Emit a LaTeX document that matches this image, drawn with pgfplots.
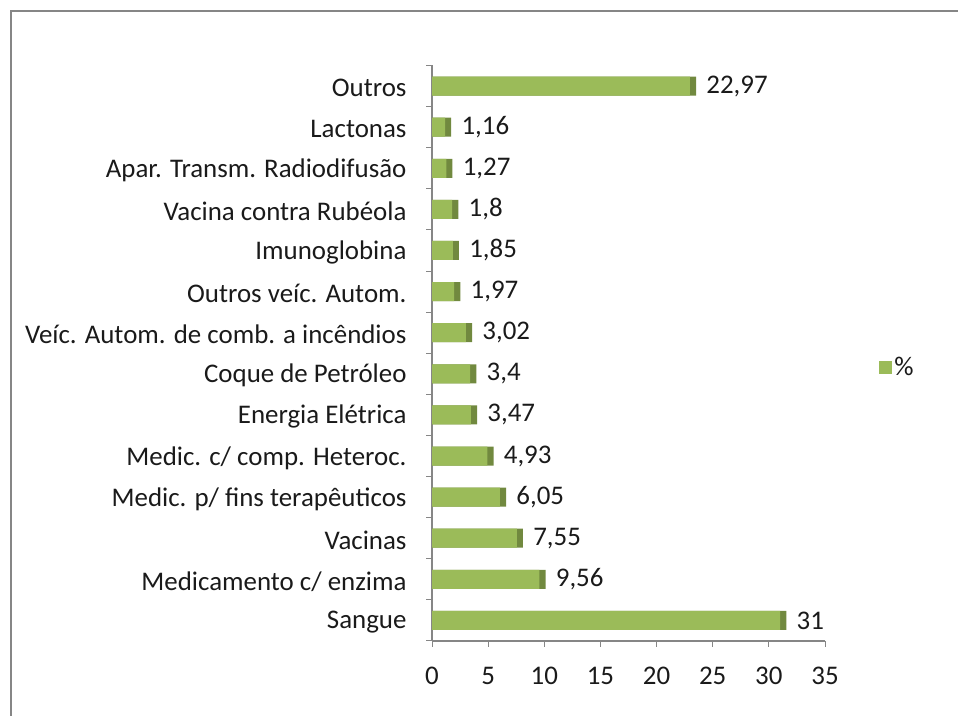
\documentclass[border=0pt]{standalone}
\usepackage{pgfplots}
\pgfplotsset{compat=1.18}
\usepackage{fontspec}
\setmainfont{Carlito}
\definecolor{barg}{HTML}{9BBB59}
\definecolor{bardk}{HTML}{71893F}
\definecolor{axgray}{HTML}{868686}
\definecolor{txt}{HTML}{1A1A1A}
\begin{document}
\begin{tikzpicture}[x=1bp,y=1bp]
\useasboundingbox (0,0) rectangle (958,716);
\draw[axgray, line width=2bp] (11,0) -- (11,705) -- (958,705);
\begin{axis}[
  at={(432bp,75bp)}, anchor=south west,
  scale only axis, width=393bp, height=575.5bp,
  xmin=0, xmax=35, ymin=-0.5, ymax=13.5,
  xtick={0,5,...,35},
  ytick={-0.5,0.5,...,13.5},
  yticklabels={},
  extra y ticks={0,...,13},
  extra y tick labels={Sangue,Medicamento c/ enzima,Vacinas,Medic. p/ fins terapêuticos,Medic. c/ comp. Heteroc.,Energia Elétrica,Coque de Petróleo,Veíc. Autom. de comb. a incêndios,Outros veíc. Autom.,Imunoglobina,Vacina contra Rubéola,Apar. Transm. Radiodifusão,Lactonas,Outros},
  extra y tick style={tick style={draw=none}},
  major tick length=6bp,
  tick align=outside,
  axis x line*=bottom, axis y line*=left,
  axis line style={axgray, line width=1.2bp, -},
  tick style={axgray, line width=1bp},
  tick label style={font=\fontsize{27}{31}\selectfont, text=txt},
  yticklabel style={xshift=-16bp, yshift=-2bp},
  xticklabel style={yshift=-17bp},
  /pgf/number format/assume math mode=true,
  xbar, bar width=19bp, bar shift=0pt,
  legend style={at={(1.13,0.476)}, anchor=west, draw=none, fill=none, font=\fontsize{27}{31}\selectfont, text=txt},
  legend image code/.code={\fill[barg] (0bp,-7bp) rectangle (13bp,6bp);},
  clip=false,
]
\addplot[fill=bardk, draw=none, forget plot] coordinates {
(31.55,0) (10.11,1) (8.10,2) (6.60,3) (5.48,4) (4.02,5) (3.95,6) (3.57,7) (2.52,8) (2.40,9) (2.35,10) (1.82,11) (1.71,12) (23.52,13)};
\addplot[fill=barg, draw=none,
  nodes near coords, nodes near coords align={horizontal},
  every node near coord/.append style={font=\fontsize{27}{31}\selectfont, text=txt, anchor=west, xshift=13bp, /pgf/number format/use comma, /pgf/number format/assume math mode=true}
] coordinates {
(31,0) (9.56,1) (7.55,2) (6.05,3) (4.93,4) (3.47,5) (3.4,6) (3.02,7) (1.97,8) (1.85,9) (1.8,10) (1.27,11) (1.16,12) (22.97,13)};
\addlegendentry{\%}
\end{axis}
\end{tikzpicture}
\end{document}
